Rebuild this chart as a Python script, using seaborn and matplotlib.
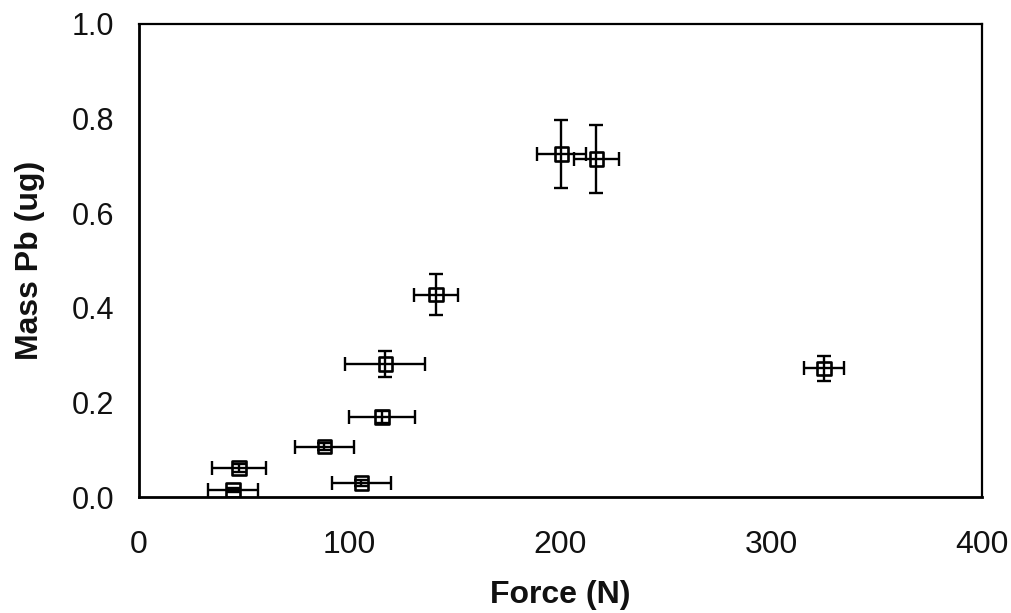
import pandas as pd
import matplotlib.pyplot as plt
import seaborn as sns

# data
force = [44.7, 47.5, 88.0, 105.5, 115.4, 116.9, 141.0, 200.5, 217.1, 325.2]
force_err = [12.0, 13.0, 14.0, 14.0, 15.5, 19.0, 10.6, 11.5, 10.8, 9.5]
mass_pb = [0.015, 0.062, 0.107, 0.030, 0.169, 0.281, 0.428, 0.725, 0.714, 0.272]
mass_err = [0.005, 0.008, 0.007, 0.007, 0.012, 0.028, 0.043, 0.072, 0.072, 0.027]

df = pd.DataFrame({"Force": force, "MassPb": mass_pb,
                   "xerr": force_err, "yerr": mass_err})

sns.set_theme(style="white")
plt.rcParams["font.family"] = ["Liberation Sans", "DejaVu Sans"]

fig = plt.figure(figsize=(10.12, 6.13), dpi=100)
ax = fig.add_axes([0.1374, 0.189, 0.8326, 0.772])

ax.errorbar(df["Force"], df["MassPb"], xerr=df["xerr"], yerr=df["yerr"],
            fmt="none", ecolor="black", elinewidth=1.7, capsize=4.8,
            capthick=1.7, zorder=2)
sns.scatterplot(data=df, x="Force", y="MassPb", marker="s", s=95,
                facecolor="none", edgecolor="black", linewidth=1.9,
                ax=ax, zorder=3)

ax.set_xlim(0, 400)
ax.set_ylim(0, 1.0)
ax.set_xticks([0, 100, 200, 300, 400])
ax.set_yticks([0.0, 0.2, 0.4, 0.6, 0.8, 1.0])
ax.set_yticklabels([f"{v:.1f}" for v in ax.get_yticks()])
ax.tick_params(axis="both", which="major", direction="out", length=4,
               width=0.8, color="#999999", labelcolor="#111111")
ax.tick_params(axis="x", pad=20, labelsize=23)
ax.tick_params(axis="y", pad=14, labelsize=22)

for side, sp in ax.spines.items():
    sp.set_color("black")
    sp.set_linewidth(2.0 if side in ("left", "bottom") else 1.6)

ax.set_xlabel("Force (N)", fontsize=23, fontweight="bold", labelpad=14,
              color="#111111")
ax.set_ylabel("Mass Pb (ug)", fontsize=23, fontweight="bold", labelpad=19,
              color="#111111")

fig.savefig("out.png", dpi=100)
plt.close(fig)
